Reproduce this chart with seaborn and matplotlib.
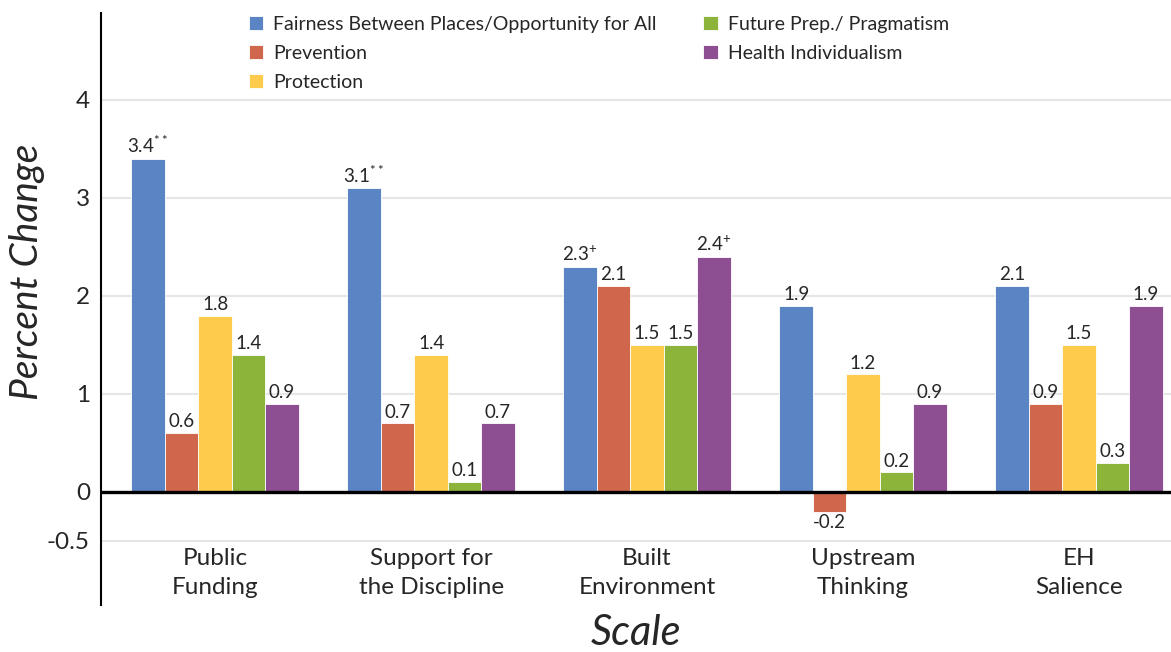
import pandas as pd
import matplotlib.pyplot as plt
import seaborn as sns

# data
scales = ["Public\nFunding", "Support for\nthe Discipline", "Built\nEnvironment",
          "Upstream\nThinking", "EH\nSalience"]
frames = ["Fairness Between Places/Opportunity for All", "Prevention", "Protection",
          "Future Prep./ Pragmatism", "Health Individualism"]
fairness = [3.4, 3.1, 2.3, 1.9, 2.1]
prevention = [0.6, 0.7, 2.1, -0.2, 0.9]
protection = [1.8, 1.4, 1.5, 1.2, 1.5]
future_prep = [1.4, 0.1, 1.5, 0.2, 0.3]
health_indiv = [0.9, 0.7, 2.4, 0.9, 1.9]
fairness_labels = [r"$\mathregular{3.4^{**}}$", r"$\mathregular{3.1^{**}}$",
                   r"$\mathregular{2.3^{+}}$", "1.9", "2.1"]
health_labels = ["0.9", "0.7", r"$\mathregular{2.4^{+}}$", "0.9", "1.9"]
colors = ["#5B84C4", "#D0674D", "#FECB4D", "#8DB43A", "#8E4E92"]

series = [fairness, prevention, protection, future_prep, health_indiv]
rows = []
for frame, vals in zip(frames, series):
    for sc, v in zip(scales, vals):
        rows.append({"scale": sc, "frame": frame, "value": v})
df = pd.DataFrame(rows)

sns.set_theme(style="white")
plt.rcParams["font.family"] = ["Lato", "DejaVu Sans"]
plt.rcParams["mathtext.fontset"] = "custom"
plt.rcParams["mathtext.rm"] = "Lato"

fig = plt.figure(figsize=(11.71, 6.52), dpi=100)
ax = fig.add_axes([0.0863, 0.0721, 0.9137, 0.908])

sns.barplot(data=df, x="scale", y="value", hue="frame", hue_order=frames,
            order=scales, palette=colors, width=0.775, gap=0, saturation=1,
            edgecolor="white", linewidth=0.6, ax=ax)

ax.set_xlim(-0.528, 4.426)
ax.set_ylim(-1.153, 4.888)
ax.set_yticks([-0.5, 0, 1, 2, 3, 4])
ax.set_yticklabels(["-0.5", "0", "1", "2", "3", "4"])
ax.tick_params(axis="y", length=0, pad=8, labelsize=17.5)
ax.set_xticks([])
ax.grid(axis="y", color="#E6E6E6", linewidth=1.5)
ax.set_axisbelow(True)
ax.axhline(0, color="black", linewidth=2.4, zorder=5)

for s in ["top", "right", "bottom"]:
    ax.spines[s].set_visible(False)
ax.spines["left"].set_color("black")
ax.spines["left"].set_linewidth(1.5)

# value labels
all_labels = [fairness_labels,
              [f"{v:.1f}" for v in prevention],
              [f"{v:.1f}" for v in protection],
              [f"{v:.1f}" for v in future_prep],
              health_labels]
for cont, labs in zip(ax.containers, all_labels):
    ax.bar_label(cont, labels=labs, padding=2, fontsize=13.5)

# category labels under the zero line
for i, sc in enumerate(scales):
    ax.text(i, -0.575, sc, ha="center", va="top", fontsize=17.5, linespacing=1.45)

ax.set_xlabel("Scale", fontsize=30, style="italic")
ax.xaxis.set_label_coords(0.5, -0.015)
ax.xaxis.label.set_va("top")
ax.set_ylabel("Percent Change", fontsize=28, style="italic")
ax.yaxis.set_label_coords(-0.052, 0.5625)

leg = ax.legend(loc="upper left", bbox_to_anchor=(0.1975, 1.003), bbox_transform=fig.transFigure,
                ncol=2, frameon=False, fontsize=14, handlelength=0.75, handleheight=0.75,
                handletextpad=0.5, columnspacing=2.4, labelspacing=0.62)

fig.savefig("out.png", dpi=100)
